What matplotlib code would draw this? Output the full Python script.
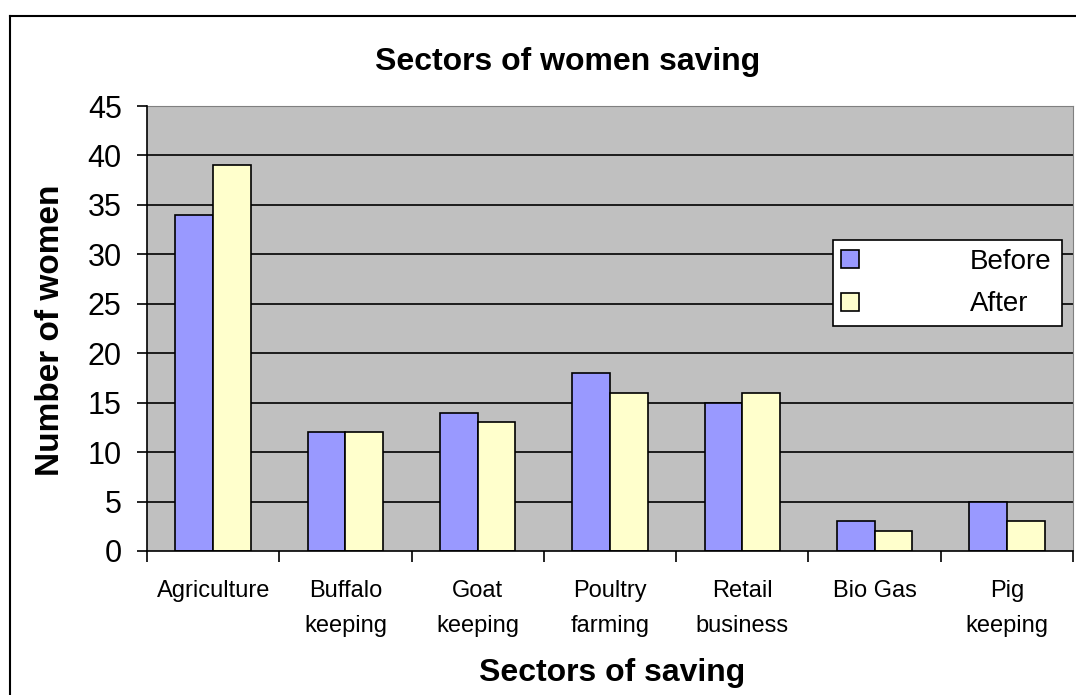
import matplotlib
matplotlib.use("Agg")
import matplotlib.pyplot as plt
import numpy as np
from matplotlib.lines import Line2D

plt.rcParams['font.family'] = ['Liberation Sans', 'DejaVu Sans']

categories = ['Agriculture', 'Buffalo\nkeeping', 'Goat\nkeeping', 'Poultry\nfarming',
              'Retail\nbusiness', 'Bio Gas', 'Pig\nkeeping']
before = [34, 12, 14, 18, 15, 3, 5]
after = [39, 12, 13, 16, 16, 2, 3]
yticks = [0, 5, 10, 15, 20, 25, 30, 35, 40, 45]

W, H = 1076, 695
fig = plt.figure(figsize=(W / 100, H / 100), dpi=100)
ax = fig.add_axes([147 / W, 1 - 551 / H, (1073 - 147) / W, (551 - 106) / H])

x = np.arange(len(categories))
bw = 0.285
ax.bar(x - bw / 2, before, bw, color='#9999FF', edgecolor='black', linewidth=1.2,
       label='Before', zorder=3)
ax.bar(x + bw / 2, after, bw, color='#FFFFCC', edgecolor='black', linewidth=1.2,
       label='After', zorder=3)

ax.set_facecolor('#C0C0C0')
ax.set_xlim(-0.5, len(categories) - 0.5)
ax.set_ylim(0, 45)
ax.set_yticks(yticks)
ax.tick_params(axis='y', labelsize=22, length=7.2, width=1.2, direction='out', pad=11)
for yv in yticks[1:]:
    ax.axhline(yv, color='black', linewidth=1.2, zorder=1)

ax.set_xticks(x)
ax.set_xticklabels(categories, fontsize=17, linespacing=1.75)
ax.tick_params(axis='x', length=0, pad=21)
ax.set_xticks(np.arange(len(categories) + 1) - 0.5, minor=True)
ax.tick_params(axis='x', which='minor', length=8, width=1.2, direction='out')

for s in ['top', 'right']:
    ax.spines[s].set_color('#808080')
for s in ['left', 'bottom']:
    ax.spines[s].set_linewidth(1.2)
    ax.spines[s].set_zorder(4)

leg = ax.legend(loc='lower left', bbox_to_anchor=(0.741, 0.506, 0.247, 0.209),
                mode='expand', fontsize=20, frameon=True, fancybox=False,
                framealpha=1, facecolor='white', edgecolor='black',
                handlelength=0.62, handleheight=0.62, handletextpad=4.0,
                borderpad=0.3, labelspacing=0.6, borderaxespad=0)
leg.get_frame().set_linewidth(1.2)

fig.text(568 / W, 1 - 62 / H, 'Sectors of women saving', fontsize=23, fontweight='bold',
         ha='center', va='center')
fig.text(51 / W, 1 - 330 / H, 'Number of women', fontsize=24, fontweight='bold',
         ha='center', va='center', rotation=90)
fig.text(612 / W, 1 - 673 / H, 'Sectors of saving', fontsize=23, fontweight='bold',
         ha='center', va='center')

# outer chart border (top and left visible)
fig.add_artist(Line2D([10 / W, 10 / W], [0, 1 - 16 / H], transform=fig.transFigure,
                      color='black', linewidth=1.5))
fig.add_artist(Line2D([10 / W, 1], [1 - 16 / H, 1 - 16 / H], transform=fig.transFigure,
                      color='black', linewidth=1.5))

fig.savefig('out.png', dpi=100)
